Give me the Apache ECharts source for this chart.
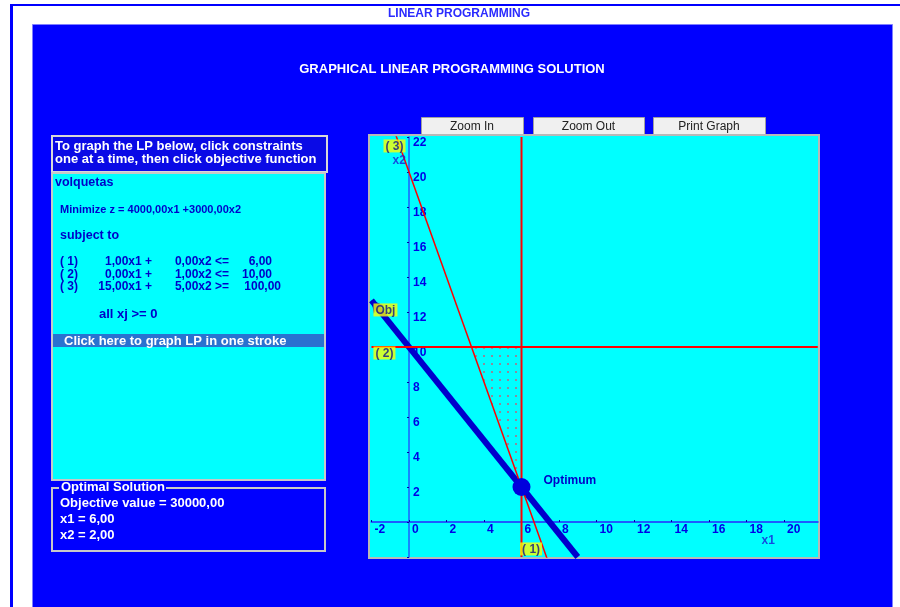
<!DOCTYPE html>
<html><head><meta charset="utf-8">
<script src="https://cdn.jsdelivr.net/npm/echarts/dist/echarts.min.js"></script>
<style>html,body{margin:0;padding:0;background:#fff}#c{width:900px;height:607px}</style>
</head><body><div id="c"></div><script>
// ---- data ----
const problemName = 'volquetas';
const objectiveText = 'Minimize z = 4000,00x1 +3000,00x2';
const constraintNames = ['( 1)', '( 2)', '( 3)'];
const constraintLhs1 = ['1,00x1 +', '0,00x1 +', '15,00x1 +'];
const constraintLhs2 = ['0,00x2 <=', '1,00x2 <=', '5,00x2 >='];
const constraintRhs = ['6,00', '10,00', '100,00'];
const solutionLines = ['Objective value = 30000,00', 'x1 = 6,00', 'x2 = 2,00'];
const buttonLabels = ['Zoom In', 'Zoom Out', 'Print Graph'];
const line1 = [[6, -2], [6, 22]];            // x1 <= 6
const line2 = [[-2, 10], [21.8, 10]];        // x2 <= 10
const line3 = [[-0.85, 22.55], [7.5, -2.5]]; // 15x1 + 5x2 >= 100
const objLine = [[-2, 12.67], [9, -2]];      // 4000x1 + 3000x2 = 30000
const optimum = [[6, 2]];
const feasible = [[3.33, 10], [6, 10], [6, 2]];
const tagNames = ['( 3)', '( 2)', 'Obj', '( 1)'];
const axisNames = ['x2', 'x1'];

// ---- chart ----
const chart = echarts.init(document.getElementById('c'), null, {renderer: 'canvas'});
const pat = document.createElement('canvas');
pat.width = 8; pat.height = 8;
const pctx = pat.getContext('2d');
pctx.fillStyle = '#8c8c9c';
pctx.fillRect(3, 3, 2, 2);

const FAM = '"Liberation Sans", Arial, sans-serif';
const f = s => 'bold ' + s + 'px ' + FAM;
const PANEL = '#0000ff';
const g = [];
function rect(x, y, w, h, style, z) { g.push({type: 'rect', z: z == null ? -10 : z, shape: {x, y, width: w, height: h}, style}); }
function text(x, y, t, fill, font, align, z) { g.push({type: 'text', z: z == null ? -5 : z, style: {x, y, text: t, fill, font: font || f(12), textAlign: align || 'left', textVerticalAlign: 'middle'}}); }

rect(10, 4, 890, 2, {fill: PANEL});
rect(10, 4, 3, 603, {fill: PANEL});
text(459, 14, 'LINEAR PROGRAMMING', '#2a2aff', f(12), 'center');
rect(32.5, 24.5, 860, 590, {fill: PANEL, stroke: '#7f7fff', lineWidth: 1});
text(452, 69, 'GRAPHICAL LINEAR PROGRAMMING SOLUTION', '#ffffff', f(13), 'center');
// buttons
const btnX = [421, 533, 653], btnW = [102, 111, 112];
buttonLabels.forEach((b, i) => {
  rect(btnX[i] + 0.5, 117.5, btnW[i], 18, {fill: '#f0f0f0', stroke: '#a0a0a0', lineWidth: 1});
  text(btnX[i] + btnW[i] / 2, 127, b, '#222', '12px ' + FAM, 'center');
});
// plot frame
rect(369, 135, 450, 423, {fill: '#00ffff', stroke: '#b8b8b8', lineWidth: 2});
// left header
rect(52, 136, 275, 36, {fill: '#0a0ae6', stroke: '#d8d8d8', lineWidth: 2});
text(55, 146, 'To graph the LP below, click constraints', '#ffffff', f(13));
text(55, 159, 'one at a time, then click objective function', '#ffffff', f(13));
// cyan model panel
rect(52, 173, 273, 307, {fill: '#00ffff', stroke: '#c8c8c8', lineWidth: 2});
const TC = '#0000c8';
text(55, 183, problemName, TC, f(12.5));
text(60, 210, objectiveText, TC, f(11));
text(60, 236, 'subject to', TC, f(12.5));
constraintNames.forEach((n, i) => {
  const y = 262 + i * 12.5;
  text(60, y, n, TC);
  text(152, y, constraintLhs1[i], TC, null, 'right');
  text(229, y, constraintLhs2[i], TC, null, 'right');
  text(i === 2 ? 281 : 272, y, constraintRhs[i], TC, null, 'right');
});
text(99, 314, 'all xj >= 0', TC, f(13));
rect(53, 334, 271, 13, {fill: '#2a72d0'});
text(64, 341, 'Click here to graph LP in one stroke', '#ffffff', f(13));
// optimal solution group box
rect(52, 488, 273, 63, {fill: 'rgba(0,0,0,0)', stroke: '#c8c8c8', lineWidth: 2});
rect(59, 481, 107, 14, {fill: PANEL}, -9);
text(61, 487, 'Optimal Solution', '#ffffff', f(13));
solutionLines.forEach((s, i) => text(60, 503 + i * 16, s, '#ffffff', f(13)));

const tagLabel = {show: true, position: [0, 0], backgroundColor: '#ffff00', color: '#10108a',
  fontWeight: 'bold', fontSize: 12, fontFamily: FAM, padding: [1, 2, 0, 2], lineHeight: 12};
const tagData = [
  {value: [-1.333, 21.09], label: Object.assign({}, tagLabel, {formatter: tagNames[0], align: 'left', verticalAlign: 'bottom'})},
  {value: [-1.87, 10], label: Object.assign({}, tagLabel, {formatter: tagNames[1], align: 'left', verticalAlign: 'top'})},
  {value: [-1.87, 12.46], label: Object.assign({}, tagLabel, {formatter: tagNames[2], align: 'left', verticalAlign: 'top'})},
  {value: [5.95, -1.94], label: Object.assign({}, tagLabel, {formatter: tagNames[3], align: 'left', verticalAlign: 'bottom'})},
  {value: [-0.85, 20.6], label: {show: true, position: [0, 0], formatter: axisNames[0], color: '#1a1ad8', fontWeight: 'bold', fontSize: 12, fontFamily: FAM, align: 'left', verticalAlign: 'middle'}},
  {value: [18.83, -1.09], label: {show: true, position: [0, 0], formatter: axisNames[1], color: '#1a1ad8', fontWeight: 'bold', fontSize: 12, fontFamily: FAM, align: 'left', verticalAlign: 'middle'}}
];

// grid geometry and axis ranges
const G = {left: 371.5, top: 137, width: 446.25, height: 420};
const X = {min: -2, max: 21.8}, Y = {min: -2, max: 22};
// shift axes so they cross at the origin (labels follow the shifted axis line)
const xOffset = -((0 - Y.min) / (Y.max - Y.min)) * G.height;
const yOffset = -((0 - X.min) / (X.max - X.min)) * G.width;

const AX = '#1e5cff';
const LBL = {color: '#0000e6', fontWeight: 'bold', fontSize: 12, fontFamily: FAM};
chart.setOption({
  animation: false,
  graphic: g,
  grid: Object.assign({show: false}, G),
  xAxis: {type: 'value', min: X.min, max: X.max, interval: 2, position: 'bottom', offset: xOffset,
    axisLine: {onZero: false, lineStyle: {color: AX, width: 2}},
    axisTick: {show: true, inside: true, length: 2, lineStyle: {color: '#0000a0'}},
    splitLine: {show: false},
    axisLabel: Object.assign({}, LBL, {show: true, margin: 2, align: 'left', padding: [0, 0, 0, 3], showMaxLabel: false,
      formatter: v => (v > 20 ? '' : String(v))})},
  yAxis: {type: 'value', position: 'left', offset: yOffset, min: Y.min, max: Y.max, interval: 2,
    axisLine: {onZero: false, lineStyle: {color: AX, width: 1.5}},
    axisTick: {show: true, inside: false, length: 2, lineStyle: {color: '#0000a0'}},
    splitLine: {show: false},
    axisLabel: Object.assign({}, LBL, {inside: true, margin: 4, verticalAlign: 'top',
      formatter: v => (v <= 0 ? '' : String(v))})},
  series: [
    {type: 'custom', z: 1, data: [optimum[0]], clip: true, renderItem: (p, api) => ({
      type: 'polygon', shape: {points: feasible.map(pt => api.coord(pt))},
      style: {fill: {image: pat, repeat: 'repeat'}, stroke: null}})},
    {type: 'line', z: 2, data: objLine, lineStyle: {color: '#0000cc', width: 6}, itemStyle: {color: '#0000cc'},
      symbol: (v, p) => (p.dataIndex === 0 ? 'arrow' : 'none'), symbolSize: [10, 12], symbolRotate: 39, showSymbol: true},
    {type: 'line', z: 3, data: line1, symbol: 'none', lineStyle: {color: '#ff0000', width: 2}},
    {type: 'line', z: 3, data: line2, symbol: 'none', lineStyle: {color: '#ff0000', width: 2}},
    {type: 'line', z: 3, data: line3, symbol: 'none', lineStyle: {color: '#ff0000', width: 1.5}},
    {type: 'scatter', z: 4, data: optimum, symbolSize: 18, itemStyle: {color: '#0000dd', opacity: 1},
      label: {show: true, formatter: 'Optimum', position: 'right', distance: 13, offset: [0, -6],
        color: '#0000c8', fontWeight: 'bold', fontSize: 12, fontFamily: FAM}},
    {type: 'scatter', z: 6, data: tagData, symbolSize: 1, itemStyle: {color: 'rgba(0,0,0,0)'}}
  ]
});
</script></body></html>
